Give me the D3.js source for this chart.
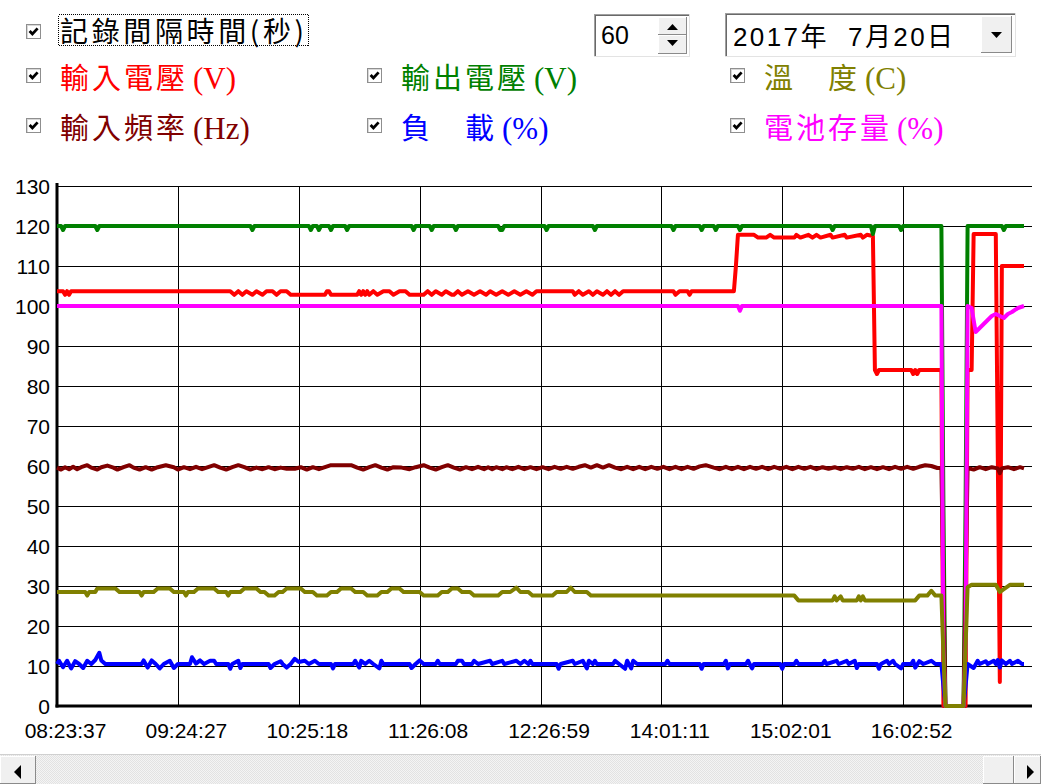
<!DOCTYPE html>
<html>
<head>
<meta charset="utf-8">
<script src="https://cdn.jsdelivr.net/npm/d3@7"></script>
<style>
  body { margin: 0; background: #fff; }
  svg { display: block; }
</style>
</head>
<body>
<svg id="chart"></svg>
<script>
const WIDTH = 1041;
const HEIGHT = 784;

// x axis: sample number (one record per minute)
const TIME_TICKS = [0, 60, 120, 180, 240, 300, 360, 420];
const TIME_LABELS = ["08:23:37", "09:24:27", "10:25:18", "11:26:08", "12:26:59", "14:01:11", "15:02:01", "16:02:52"];
const Y_TICKS = [0, 10, 20, 30, 40, 50, 60, 70, 80, 90, 100, 110, 120, 130];

const LEGEND_LABELS = ["輸入電壓", "輸出電壓", "溫　度", "輸入頻率", "負　載", "電池存量"];
const LEGEND_UNITS = ["(V)", "(V)", "(C)", "(Hz)", "(%)", "(%)"];
const SERIES_COLORS = ["#ff0000", "#008000", "#808000", "#800000", "#0000ff", "#ff00ff"];

const INTERVAL = "60";
const DATE_TEXT = "2017年  7月20日";
const INTERVAL_LABEL = "記錄間隔時間(秒)";

// [sample, value]
const inputVolt = [[0,103.7],[3,103.7],[4,102.8],[5,103.7],[6,102.8],[7,103.7],[86,103.7],[88,102.8],[90,103.7],[92,102.8],[94,103.7],[97,102.8],[99,103.7],[102,102.8],[104,103.7],[107,103.7],[109,102.8],[111,103.7],[114,103.7],[116,102.8],[133,102.8],[134,103.7],[135,103.7],[136,102.8],[149,102.8],[150,103.7],[151,102.8],[152,103.7],[153,102.8],[154,103.7],[155,102.8],[157,103.7],[159,102.8],[162,103.7],[165,103.7],[167,102.8],[170,103.7],[173,103.7],[175,102.8],[182,102.8],[184,103.7],[186,102.8],[188,103.7],[191,102.8],[193,103.7],[196,102.8],[197,102.8],[199,103.7],[201,102.8],[204,103.7],[207,102.8],[210,103.7],[213,102.8],[215,103.7],[218,102.8],[221,103.7],[224,102.8],[227,103.7],[230,102.8],[233,103.7],[236,102.8],[238,103.7],[256,103.7],[257,102.8],[259,103.7],[261,102.8],[264,103.7],[266,102.8],[268,103.7],[271,102.8],[273,103.7],[275,102.8],[277,103.7],[279,102.8],[281,103.7],[306,103.7],[307,102.8],[309,103.7],[313,103.7],[314,102.8],[315,103.7],[336,103.7],[337,110],[338,117.8],[346,117.8],[348,117.1],[352,117.1],[354,117.8],[356,117.1],[366,117.1],[367,117.8],[369,117.1],[373,117.8],[375,117.1],[377,117.8],[379,117.1],[384,117.8],[385,117.1],[391,117.8],[392,117.1],[399,117.8],[400,117.1],[402,117.8],[405,117.5],[406,84],[407,83],[408,84],[424,84],[425,83],[426,84],[427,83],[428,84],[439,84],[440,0],[451,0],[452,84],[454,84],[455,118],[466,118],[467,62],[468,6],[469,110],[480,110]];

const outputVolt = [[0,120],[2,120],[3,119],[4,120],[19,120],[20,119],[21,120],[96,120],[97,119],[98,120],[125,120],[126,119],[127,120],[129,120],[130,119],[131,120],[135,120],[136,119],[137,120],[143,120],[144,119],[145,120],[176,120],[177,119],[178,120],[185,120],[186,119],[187,120],[197,120],[198,119],[199,120],[219,120],[220,119],[221,119],[222,120],[242,120],[243,119],[244,120],[266,120],[267,119],[268,120],[305,120],[306,119],[307,120],[319,120],[320,119],[321,120],[326,120],[327,119],[328,120],[338,120],[339,119],[340,120],[384,120],[385,119],[386,120],[404,120],[405,118],[406,120],[418,120],[419,119],[420,120],[439,120],[440,50],[441,0],[450,0],[451,50],[452,120],[469,120],[470,119],[471,120],[480,120]];

const temperature = [[0,28.5],[14,28.5],[15,27.6],[16,28.5],[19,28.5],[20,29.4],[29,29.4],[31,28.5],[41,28.5],[42,27.6],[43,28.5],[48,28.5],[50,29.4],[56,29.4],[58,28.5],[63,28.5],[64,27.6],[65,28.5],[68,28.5],[70,29.4],[78,29.4],[80,28.5],[84,28.5],[85,27.6],[86,28.5],[91,28.5],[93,29.4],[99,29.4],[101,28.5],[103,28.5],[105,27.6],[108,27.6],[110,28.5],[112,28.5],[114,29.4],[121,29.4],[123,28.5],[127,28.5],[129,27.6],[134,27.6],[136,28.5],[139,28.5],[141,29.4],[146,29.4],[148,28.5],[152,28.5],[154,27.6],[159,27.6],[161,28.5],[164,28.5],[166,29.4],[170,29.4],[172,28.5],[180,28.5],[182,27.6],[189,27.6],[191,28.5],[194,28.5],[196,29.4],[199,29.4],[201,28.5],[205,28.5],[207,27.6],[219,27.6],[221,28.5],[225,28.5],[228,29.6],[230,28.5],[234,28.5],[236,27.6],[246,27.6],[248,28.5],[253,28.5],[255,29.6],[257,28.5],[263,28.5],[265,27.6],[366,27.6],[368,26.4],[385,26.4],[386,27.4],[387,26.4],[389,27.4],[390,26.4],[397,26.4],[398,27.4],[399,26.4],[400,27.4],[401,26.4],[426,26.4],[428,27.6],[432,27.6],[434,28.8],[436,27.6],[439,27.6],[440,13],[441,0],[450,0],[451,15],[452,29.7],[454,30.3],[466,30.3],[468,28.5],[470,29.2],[473,30.3],[480,30.3]];

const inputFreq = [[0,59.6],[2,59.1],[4,59.7],[6,59.2],[8,59.8],[10,59.2],[12,59.7],[15,60.2],[17,59.6],[20,59.1],[22,59.7],[25,60.1],[28,59.6],[30,59.1],[33,59.7],[36,60.2],[38,59.6],[41,59.1],[44,59.7],[47,59.1],[50,59.7],[54,60.2],[58,59.7],[60,59.1],[63,59.7],[66,59.2],[69,59.8],[72,59.2],[75,59.7],[78,60.2],[81,59.6],[84,59.1],[87,59.7],[90,60.2],[93,59.7],[96,59.1],[99,59.6],[102,59.2],[105,59.7],[108,59.2],[111,59.6],[114,59.3],[118,59.3],[121,59.7],[124,59.1],[127,59.7],[130,59.2],[133,59.7],[136,60.2],[146,60.2],[149,59.6],[152,59.1],[155,59.7],[158,60.2],[161,59.6],[164,59.1],[167,59.7],[171,59.6],[175,59.2],[178,59.7],[182,60.2],[185,59.6],[188,59.1],[191,59.7],[194,60.2],[197,59.6],[200,59.1],[203,59.7],[206,59.2],[209,59.8],[212,59.2],[214,59.7],[216,59.2],[218,59.7],[221,59.2],[223,59.7],[226,59.2],[229,59.8],[232,59.2],[235,59.7],[238,59.2],[241,59.7],[244,59.2],[247,59.8],[250,59.3],[253,59.8],[256,59.3],[259,59.8],[262,60.2],[265,59.6],[268,60.2],[271,59.6],[274,60.2],[277,59.6],[280,59.2],[283,59.8],[286,59.2],[289,59.8],[292,59.2],[295,59.8],[298,59.3],[301,59.8],[304,59.2],[307,59.8],[310,59.2],[313,59.8],[316,59.3],[319,59.9],[322,60.2],[326,59.6],[329,59.2],[332,59.8],[335,59.2],[338,59.8],[341,59.2],[344,59.8],[347,59.3],[350,59.8],[353,59.2],[356,59.8],[359,59.3],[362,59.8],[365,59.2],[368,59.8],[371,59.3],[374,59.8],[377,59.2],[380,59.7],[383,59.3],[386,59.7],[389,59.2],[392,59.7],[395,59.3],[398,59.8],[401,59.2],[404,59.7],[407,59.2],[410,59.7],[413,59.2],[416,59.8],[419,59.3],[422,59.8],[425,59.3],[428,59.8],[431,60.2],[434,60],[437,59.5],[439,59.5],[440,30],[441,0],[450,0],[451,30],[452,59.5],[455,59.1],[458,59.7],[461,59.2],[464,59.7],[467,59.4],[468,58.2],[469,59.4],[472,59.7],[475,59.2],[478,59.7],[480,59.4]];

const load = [[0,10.5],[1,11.3],[3,9.7],[5,11.3],[7,9.4],[9,11.2],[11,10.5],[13,9.5],[15,11.3],[17,10.5],[19,11.5],[21,13.3],[22,11.4],[24,10.5],[42,10.5],[43,11.4],[45,9.6],[47,11.4],[49,10.5],[51,9.4],[53,10.5],[56,11.3],[58,9.5],[60,10.5],[66,10.5],[67,12.2],[69,10.6],[71,11.4],[73,10.5],[76,11.3],[78,11.3],[79,10.5],[85,10.5],[86,9.3],[87,10.5],[90,11.3],[91,9.5],[92,10.5],[105,10.5],[106,9.5],[108,10.5],[111,11.2],[112,10.5],[114,9.6],[116,10.5],[118,11.8],[120,11],[123,11.3],[125,10.5],[128,11.3],[130,10.5],[136,10.5],[137,9.4],[138,10.5],[147,10.5],[148,11.3],[150,9.6],[151,11.3],[153,10.5],[155,11.3],[157,10.5],[160,9.4],[161,11.3],[162,10.5],[175,10.5],[176,9.5],[178,10.5],[180,11.4],[182,10.5],[188,10.5],[189,11.3],[190,10.5],[198,10.5],[199,11.3],[201,11.3],[202,10.5],[206,10.5],[207,11.3],[209,10.5],[215,11.3],[216,10.5],[221,11.3],[222,10.5],[228,11.3],[230,10.5],[232,11.3],[234,10.5],[235,11.3],[236,10.5],[248,10.5],[249,9.3],[250,10.5],[256,11.3],[257,10.5],[261,11.3],[263,9.4],[264,11.3],[266,10.5],[267,11.3],[268,10.5],[276,10.5],[277,11.3],[279,10.5],[282,9.3],[283,11.3],[285,9.4],[286,11.3],[288,10.5],[302,10.5],[303,11.3],[304,10.5],[319,10.5],[320,9.3],[321,10.5],[331,10.5],[332,11.3],[333,9.4],[334,10.5],[342,10.5],[343,11.3],[345,9.4],[346,10.5],[359,10.5],[360,9.3],[361,10.5],[366,10.5],[367,11.3],[368,10.5],[380,10.5],[381,11.3],[382,10.5],[387,11.3],[388,10.5],[392,11.3],[393,10.5],[396,11.3],[397,9.5],[398,10.5],[407,10.5],[408,9.3],[409,10.5],[412,11.3],[413,10.5],[415,11.3],[416,10.5],[419,9.4],[420,10.5],[424,10.5],[425,11.3],[426,9.6],[428,11.2],[430,10.5],[434,11.3],[436,10.5],[439,10.5],[440,5],[441,0],[450,0],[451,5],[452,10.5],[455,9.5],[457,11.3],[458,10.5],[461,11.2],[462,10.5],[465,11.3],[466,10.5],[467,11.5],[468,9.6],[469,11.4],[471,10.5],[473,11.3],[474,10.5],[477,11.3],[479,10.5],[480,10.5]];

const battery = [[0,100],[338,100],[339,98.8],[340,100],[439,100],[440,14],[441,0],[450,0],[451,15],[452,100],[454,99.5],[456,93.5],[458,94.5],[461,96],[464,97.5],[466,98],[468,97.5],[470,97],[472,98],[474,98.5],[477,99.5],[480,100]];

const MARGIN = { top: 186, bottom: 78, left: 57, right: 9 };

const svg = d3.select("#chart")
  .attr("width", WIDTH)
  .attr("height", HEIGHT)
  .style("font-family", "'Liberation Sans', Arial, sans-serif");

const x = d3.scaleLinear()
  .domain([0, 480])
  .range([MARGIN.left, 1024]);

const y = d3.scaleLinear()
  .domain([0, 130])
  .range([HEIGHT - MARGIN.bottom, MARGIN.top]);

const plotRight = WIDTH - MARGIN.right;

// grid + y labels
const yAxis = d3.axisLeft(y)
  .tickValues(Y_TICKS)
  .tickSize(-(plotRight - MARGIN.left))
  .tickPadding(7);

const gy = svg.append("g")
  .attr("transform", `translate(${MARGIN.left},0)`)
  .call(yAxis);
gy.select(".domain").remove();
gy.selectAll("line").attr("stroke", "#000").attr("shape-rendering", "crispEdges");
gy.selectAll("text")
  .attr("font-size", 21)
  .attr("fill", "#000")
  .attr("dy", "0.38em");

const xAxis = d3.axisBottom(x)
  .tickValues(TIME_TICKS)
  .tickFormat((d, i) => TIME_LABELS[i])
  .tickSize(-(y(0) - y(130)))
  .tickPadding(17);

const gx = svg.append("g")
  .attr("transform", `translate(0,${y(0)})`)
  .call(xAxis);
gx.select(".domain").remove();
gx.selectAll("line").attr("stroke", "#000").attr("shape-rendering", "crispEdges");
gx.selectAll("text")
  .attr("font-size", 21)
  .attr("fill", "#000")
  .attr("x", 8);

// thick axis lines
svg.append("line")
  .attr("x1", MARGIN.left).attr("x2", MARGIN.left)
  .attr("y1", MARGIN.top - 3).attr("y2", y(0) + 1.5)
  .attr("stroke", "#000").attr("stroke-width", 3);
svg.append("line")
  .attr("x1", MARGIN.left - 1.5).attr("x2", plotRight)
  .attr("y1", y(0)).attr("y2", y(0))
  .attr("stroke", "#000").attr("stroke-width", 3);

// series lines
const line = d3.line()
  .x(d => x(d[0]))
  .y(d => y(d[1]));

const drawOrder = [
  [inputVolt, SERIES_COLORS[0]],
  [outputVolt, SERIES_COLORS[1]],
  [inputFreq, SERIES_COLORS[3]],
  [load, SERIES_COLORS[4]],
  [battery, SERIES_COLORS[5]],
  [temperature, SERIES_COLORS[2]]
];

svg.append("g")
  .selectAll("path")
  .data(drawOrder)
  .enter()
  .append("path")
  .attr("d", d => line(d[0]))
  .attr("fill", "none")
  .attr("stroke", d => d[1])
  .attr("stroke-width", 4)
  .attr("stroke-linejoin", "round");

// ---- controls above the chart ----
function checkbox(cx, cy) {
  const g = svg.append("g").attr("transform", `translate(${cx},${cy})`);
  g.append("rect").attr("x", 0.5).attr("y", 0.5).attr("width", 14).attr("height", 14)
    .attr("fill", "#fff").attr("stroke", "#8f8f8f").attr("shape-rendering", "crispEdges");
  g.append("path").attr("d", "M1.5,13.5V1.5H13.5")
    .attr("fill", "none").attr("stroke", "#d8d8d8").attr("shape-rendering", "crispEdges");
  g.append("path").attr("d", "M3.6,7L6.4,10L11.6,4.4")
    .attr("fill", "none").attr("stroke", "#000").attr("stroke-width", 2.8);
}

checkbox(26, 24);
svg.append("text")
  .attr("x", 60).attr("y", 42)
  .attr("font-family", "'Noto Sans CJK TC', sans-serif")
  .attr("font-size", 28)
  .attr("textLength", 244)
  .attr("lengthAdjust", "spacing")
  .attr("fill", "#000")
  .text(INTERVAL_LABEL);
svg.append("rect")
  .attr("x", 58.5).attr("y", 14.5).attr("width", 250).attr("height", 31)
  .attr("fill", "none").attr("stroke", "#000").attr("stroke-dasharray", "1,1")
  .attr("shape-rendering", "crispEdges");

const colX = [26, 367, 730];
const rowY = [68, 118];
LEGEND_LABELS.forEach((lab, i) => {
  const col = i % 3, row = Math.floor(i / 3);
  const bx = colX[col], by = rowY[row];
  checkbox(bx, by);
  const tx = bx + 34;
  svg.append("text")
    .attr("x", tx).attr("y", by + 21)
    .attr("font-family", "'Noto Sans CJK TC', sans-serif")
    .attr("font-size", 29)
    .attr("letter-spacing", 3)
    .attr("fill", SERIES_COLORS[i])
    .text(lab);
  svg.append("text")
    .attr("x", tx + lab.length * 32 + 5).attr("y", by + 21)
    .attr("font-family", "'Liberation Serif', 'Times New Roman', serif")
    .attr("font-size", 31)
    .attr("fill", SERIES_COLORS[i])
    .text(LEGEND_UNITS[i]);
});

function sunkenBox(x0, y0, w, h) {
  svg.append("rect").attr("x", x0).attr("y", y0).attr("width", w).attr("height", h).attr("fill", "#fff");
  svg.append("path").attr("d", `M${x0 + 0.5},${y0 + h}V${y0 + 0.5}H${x0 + w}`)
    .attr("fill", "none").attr("stroke", "#a0a0a0").attr("shape-rendering", "crispEdges");
  svg.append("path").attr("d", `M${x0 + 1.5},${y0 + h - 1}V${y0 + 1.5}H${x0 + w - 1}`)
    .attr("fill", "none").attr("stroke", "#696969").attr("shape-rendering", "crispEdges");
  svg.append("path").attr("d", `M${x0},${y0 + h - 0.5}H${x0 + w - 0.5}V${y0}`)
    .attr("fill", "none").attr("stroke", "#e3e3e3").attr("shape-rendering", "crispEdges");
}

function button(x0, y0, w, h) {
  svg.append("rect").attr("x", x0).attr("y", y0).attr("width", w).attr("height", h).attr("fill", "#f0f0f0");
  svg.append("path").attr("d", `M${x0 + 0.5},${y0 + h}V${y0 + 0.5}H${x0 + w}`)
    .attr("fill", "none").attr("stroke", "#fff").attr("shape-rendering", "crispEdges");
  svg.append("path").attr("d", `M${x0},${y0 + h - 0.5}H${x0 + w - 0.5}V${y0}`)
    .attr("fill", "none").attr("stroke", "#8a8a8a").attr("shape-rendering", "crispEdges");
}

// interval spin box
sunkenBox(594, 14, 96, 43);
svg.append("text").attr("x", 601).attr("y", 44)
  .attr("font-size", 25).attr("fill", "#000").text(INTERVAL);
button(658, 17, 29, 18);
button(658, 35, 29, 19);
svg.append("path").attr("d", "M667,30L672.5,24L678,30Z").attr("fill", "#000");
svg.append("path").attr("d", "M667,40L672.5,46L678,40Z").attr("fill", "#000");

// date picker
sunkenBox(725, 13, 291, 44);
svg.append("text").attr("x", 733).attr("y", 46)
  .attr("font-family", "'Liberation Sans', 'Noto Sans CJK TC', sans-serif")
  .attr("font-size", 26).attr("fill", "#000")
  .attr("textLength", 220).attr("lengthAdjust", "spacing")
  .attr("xml:space", "preserve").style("white-space", "pre")
  .text(DATE_TEXT);
button(981, 16, 31, 37);
svg.append("path").attr("d", "M991,32L996.5,38L1002,32Z").attr("fill", "#000");

// horizontal scrollbar
const defs = svg.append("defs");
const pat = defs.append("pattern").attr("id", "dither")
  .attr("width", 2).attr("height", 2).attr("patternUnits", "userSpaceOnUse");
pat.append("rect").attr("width", 2).attr("height", 2).attr("fill", "#f4f4f4");
pat.append("rect").attr("width", 1).attr("height", 1).attr("fill", "#e2e2e2");
pat.append("rect").attr("x", 1).attr("y", 1).attr("width", 1).attr("height", 1).attr("fill", "#e2e2e2");

svg.append("rect").attr("x", 0).attr("y", 754).attr("width", WIDTH).attr("height", 30).attr("fill", "url(#dither)");
svg.append("line").attr("x1", 0).attr("x2", WIDTH).attr("y1", 754.5).attr("y2", 754.5)
  .attr("stroke", "#d0d0d0").attr("shape-rendering", "crispEdges");
button(0, 756, 36, 28);
button(983, 756, 31, 28);
button(1014, 756, 27, 28);
svg.append("path").attr("d", "M21,765L14,772L21,779Z").attr("fill", "#000");
svg.append("path").attr("d", "M1027,765L1034,772L1027,779Z").attr("fill", "#000");
</script>
</body>
</html>
